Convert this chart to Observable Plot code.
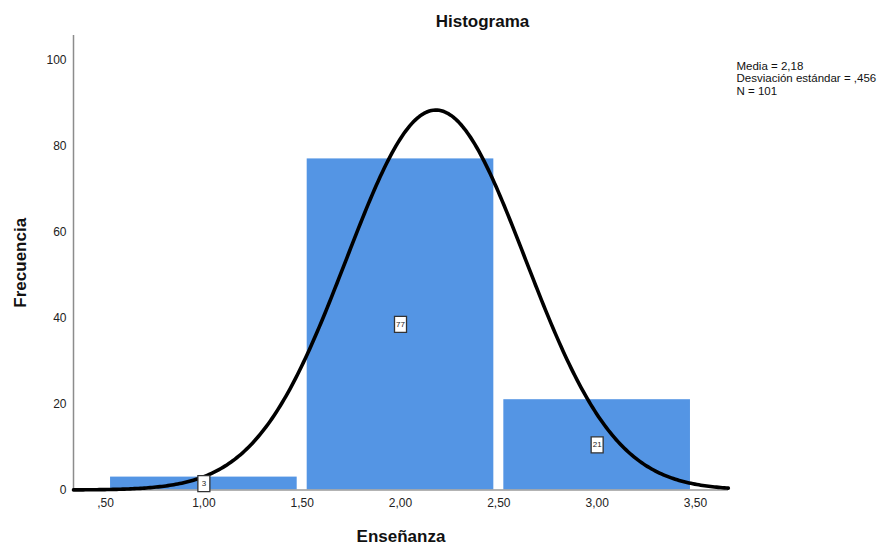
<!DOCTYPE html>
<html>
<head>
<meta charset="utf-8">
<script src="https://cdn.jsdelivr.net/npm/d3@7"></script>
<script src="https://cdn.jsdelivr.net/npm/@observablehq/plot@0.6"></script>
<style>
  html, body { margin: 0; padding: 0; background: #fff; }
  svg { font-family: "Liberation Sans", Arial, sans-serif; }
</style>
</head>
<body>
<div id="chart"></div>
<script>
// Data
const binStart = [0.5, 1.5, 2.5];
const binEnd = [1.5, 2.5, 3.5];
const counts = [3, 77, 21];

// Statistics printed on the chart (normal curve parameters)
const media = 2.18;
const desviacion = 0.456;
const n = 101;

const xTicks = [0.5, 1.0, 1.5, 2.0, 2.5, 3.0, 3.5];
const xTickLabels = [",50", "1,00", "1,50", "2,00", "2,50", "3,00", "3,50"];
const yTicks = [0, 20, 40, 60, 80, 100];

const xDomain = [0.337, 3.668];
const yDomain = [0, 105.7];

const bins = binStart.map((s, i) => ({x1: s, x2: binEnd[i], xm: (s + binEnd[i]) / 2, count: counts[i]}));

// Fitted normal curve: N * binwidth * pdf(x)
const binWidth = 1;
const curveX = d3.range(xDomain[0], xDomain[1] + 0.0001, 0.01);
const curve = curveX.map(x => ({
  x,
  y: n * binWidth * Math.exp(-0.5 * ((x - media) / desviacion) ** 2) / (desviacion * Math.sqrt(2 * Math.PI))
}));

const boxSymbol = { draw(ctx) { ctx.rect(-6, -8, 12, 16); } };

const statsLines = [
  `Media = ${String(media).replace(".", ",")}`,
  `Desviación estándar = ${String(desviacion).replace("0.", ",")}`,
  `N = ${n}`
];

const chart = Plot.plot({
  width: 893,
  height: 545,
  marginLeft: 73,
  marginRight: 165,
  marginTop: 35,
  marginBottom: 55.5,
  style: { fontFamily: '"Liberation Sans", Arial, sans-serif', fontSize: "12px", color: "#222", background: "#fff" },
  x: { domain: xDomain, ticks: xTicks, tickFormat: d => xTickLabels[xTicks.indexOf(d)], tickSize: 0, tickPadding: 8, label: null },
  y: { domain: yDomain, ticks: yTicks, tickSize: 0, tickPadding: 7, label: null },
  marks: [
    Plot.rectY(bins, { x1: "x1", x2: "x2", y: "count", fill: "#5495e4", insetLeft: 5, insetRight: 5 }),
    Plot.ruleX([xDomain[0]], { y1: yDomain[0], y2: yDomain[1], stroke: "#8c8c8c", strokeWidth: 1.5 }),
    Plot.ruleY([0], { stroke: "#9a9a9a", strokeWidth: 1.5 }),
    Plot.line(curve, { x: "x", y: "y", stroke: "#000", strokeWidth: 3.6 }),
    Plot.dot(bins, { x: "xm", y: d => d.count / 2, symbol: boxSymbol, fill: "#fff", stroke: "#333", strokeWidth: 1.3 }),
    Plot.text(bins, { x: "xm", y: d => d.count / 2, text: d => String(d.count), fontSize: 8, fill: "#222" }),
    Plot.text(["Histograma"], { frameAnchor: "top", textAnchor: "middle", lineAnchor: "middle", dx: 81.5, dy: -14, fontSize: 17, fontWeight: "bold", fill: "#111" }),
    Plot.text(["Frecuencia"], { frameAnchor: "left", textAnchor: "middle", dx: -53, rotate: -90, fontSize: 17, fontWeight: "bold", fill: "#111" }),
    Plot.text(["Enseñanza"], { frameAnchor: "bottom", textAnchor: "middle", lineAnchor: "middle", dy: 46.5, fontSize: 17, fontWeight: "bold", fill: "#111" }),
    ...statsLines.map((line, i) =>
      Plot.text([line], { frameAnchor: "top-right", textAnchor: "start", lineAnchor: "middle", dx: 8, dy: 30.5 + i * 12.5, fontSize: 11.5, fill: "#111" }))
  ]
});
document.getElementById("chart").appendChild(chart);
</script>
</body>
</html>
